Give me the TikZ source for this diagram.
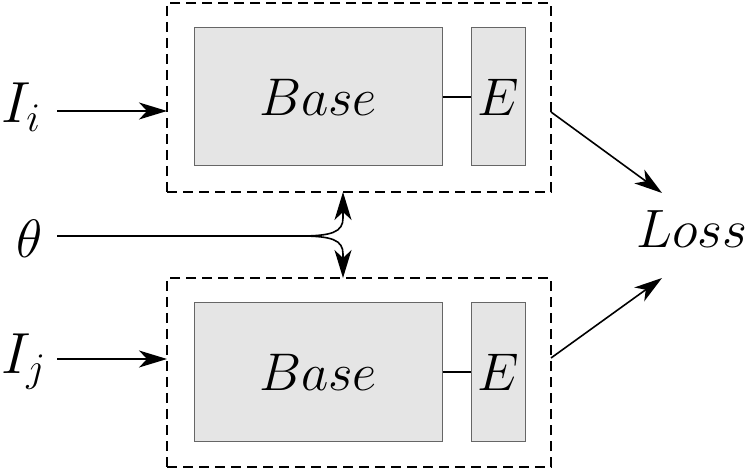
\RequirePackage{fix-cm}
\documentclass[tikz,border=0pt]{standalone}
\usetikzlibrary{arrows.meta}
\begin{document}
\begin{tikzpicture}[x=0.5pt,y=-0.5pt,
  dbox/.style={draw, dashed, dash pattern=on 5pt off 3pt, line width=0.8pt, minimum width=192pt, minimum height=94.5pt, inner sep=0},
  basebox/.style={draw=black!60, fill=black!10, line width=0.5pt, minimum width=124pt, minimum height=69pt, inner sep=0, font=\fontsize{26.5}{31}\selectfont},
  ebox/.style={draw=black!60, fill=black!10, line width=0.5pt, minimum width=27pt, minimum height=69pt, inner sep=0, font=\fontsize{26.5}{31}\selectfont},
  conn/.style={line width=0.8pt},
  arr/.style={conn, -{Stealth[length=14pt, width=8.5pt, inset=4pt]}},
  lbl/.style={inner sep=0, font=\fontsize{29}{34}\selectfont}
]
\useasboundingbox (0,0) rectangle (747,474);
% dashed boxes
\node[dbox] (dt) at (359,97.5) {};
\node[dbox] (db) at (359,372.5) {};
% inner boxes
\node[basebox] (bt) at (318,97) {$Base$};
\node[ebox] (et) at (498,97) {$E$};
\node[basebox] (bb) at (318,372) {$Base$};
\node[ebox] (eb) at (498,372) {$E$};
\draw[conn] (bt.east) -- (et.west);
\draw[conn] (bb.east) -- (eb.west);
% labels
\node[lbl, anchor=base west] (Ii) at (1,123) {$I_i$};
\node[lbl, anchor=base west] (Ij) at (1,373) {$I_j$};
\node[inner sep=0, font=\fontsize{27}{31}\selectfont] (th) at (30,239) {$\theta$};
\node[inner sep=0, anchor=base west, font=\fontsize{27}{32}\selectfont] (loss) at (636,248) {$Loss$};
% coordinates
\coordinate (ia) at (57,111);
\coordinate (ib) at (167,111);
\coordinate (ja) at (57,359);
\coordinate (jb) at (167,359);
\coordinate (ta) at (57,236);
\coordinate (fk) at (300,236);
\coordinate (tu) at (343,192);
\coordinate (td) at (343,278);
\coordinate (ot) at (551,112);
\coordinate (ob) at (551,358);
\coordinate (lt) at (662,193);
\coordinate (lb) at (662,278);
% arrows
\draw[arr] (ia) -- (ib);
\draw[arr] (ja) -- (jb);
\draw[conn] (ta) -- (fk);
\draw[arr] (fk) .. controls (332,236) and (343,232) .. (343,218) -- (tu);
\draw[arr] (fk) .. controls (332,236) and (343,240) .. (343,254) -- (td);
\draw[arr] (ot) -- (lt);
\draw[arr] (ob) -- (lb);
\end{tikzpicture}
\end{document}
